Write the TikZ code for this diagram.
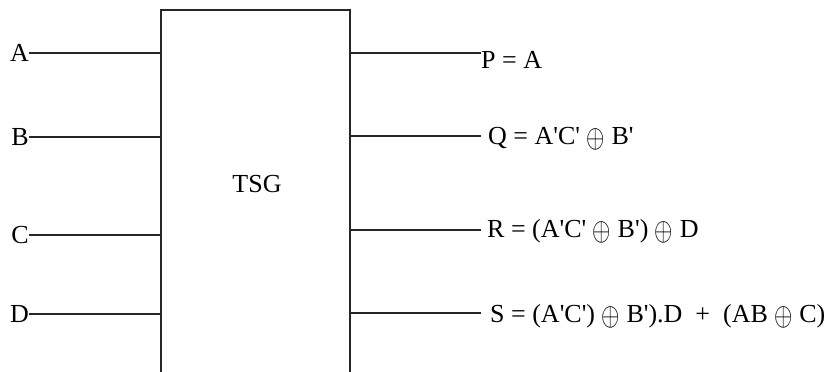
\documentclass[tikz,border=0pt]{standalone}
\usepackage{fontspec}
\newfontfamily\gatefont{Liberation Serif}
\usepackage{tikz}
\usetikzlibrary{positioning,calc}

% exclusive-or sign, a little taller than the plain one
\newcommand{\xorsign}{\raisebox{-0.12em}{\scalebox{0.95}[1.3]{$\oplus$}}}

\begin{document}
\begin{tikzpicture}[
  x=1pt, y=-1pt,
  wire/.style={draw=black!85, line width=1.1pt},
  io/.style={inner sep=0pt, font=\gatefont\fontsize{26}{31}\selectfont},
  gatebox/.style={draw=black!85, line width=1.1pt, minimum width=189pt, minimum height=400pt, inner sep=0pt}
]
  \useasboundingbox (0,0) rectangle (827,372);
  \clip (0,0) rectangle (827,372);

  % the gate itself, running past the bottom edge
  \node (tsg) [gatebox] at (255.5,210) {};
  \node (tsg-name) [io] at (257,184) {TSG};

  % inputs
  \foreach \lbl/\y in {A/53,B/137,C/235,D/314} {
    \node (in\lbl) [io, anchor=east] at (29,\y) {\lbl};
    \draw[wire] (in\lbl) -- (in\lbl -| tsg.west);
  }

  % outputs
  \coordinate (p-end) at (481,53);
  \coordinate (q-end) at (481,136);
  \coordinate (r-end) at (481,230);
  \coordinate (s-end) at (481,313);

  \node (outP) [io, anchor=base west] at (481,68) {P = A};
  \node (outQ) [io, anchor=base west] at (488,144) {Q = A'C' \xorsign\ B'};
  \node (outR) [io, anchor=base west] at (487,237) {R = (A'C' \xorsign\ B') \xorsign\ D};
  \node (outS) [io, anchor=base west] at (490,322) {S = (A'C') \xorsign\ B').D \ + \ (AB \xorsign\ C)};

  \foreach \o in {p,q,r,s}
    \draw[wire] (\o-end -| tsg.east) -- (\o-end);
\end{tikzpicture}
\end{document}
